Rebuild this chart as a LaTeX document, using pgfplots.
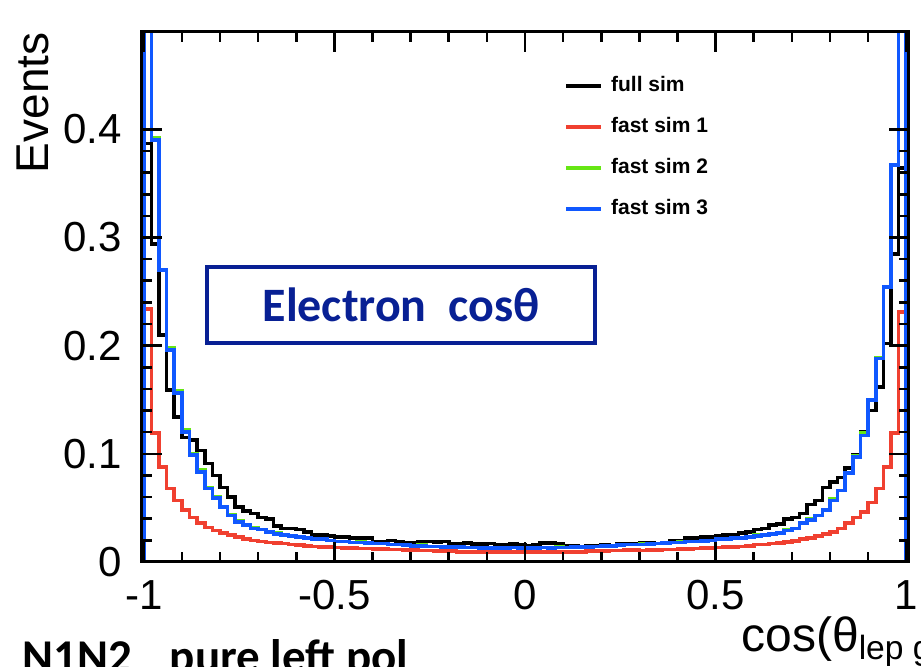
\documentclass[border=0pt]{standalone}
\usepackage{fontspec}
\setmainfont{Liberation Sans}
\newfontfamily\calib{Carlito}
\usepackage{pgfplots}
\usepackage{pgfplotstable}
\pgfplotsset{compat=1.18}
\definecolor{hred}{RGB}{240,64,48}
\definecolor{hgreen}{RGB}{102,230,20}
\definecolor{hblue}{RGB}{16,88,255}
\definecolor{navy}{RGB}{8,32,148}
\pgfplotstableread{
x full fastA fastB fastC
-1.00 0 0 0 0
-1.00 0.387 0.234 0.602 0.600
-0.98 0.294 0.119 0.392 0.390
-0.96 0.210 0.088 0.270 0.270
-0.94 0.159 0.068 0.198 0.196
-0.92 0.134 0.057 0.158 0.156
-0.90 0.115 0.048 0.122 0.120
-0.88 0.113 0.041 0.100 0.099
-0.86 0.103 0.036 0.085 0.083
-0.84 0.091 0.032 0.069 0.068
-0.82 0.080 0.029 0.060 0.059
-0.80 0.069 0.027 0.051 0.051
-0.78 0.060 0.025 0.044 0.043
-0.76 0.051 0.023 0.038 0.037
-0.74 0.047 0.021 0.034 0.034
-0.72 0.045 0.020 0.032 0.031
-0.70 0.041 0.019 0.030 0.030
-0.68 0.040 0.018 0.028 0.028
-0.66 0.033 0.0175 0.027 0.026
-0.64 0.031 0.017 0.025 0.025
-0.62 0.031 0.016 0.024 0.024
-0.60 0.030 0.0155 0.023 0.023
-0.58 0.028 0.015 0.022 0.022
-0.56 0.025 0.0145 0.0215 0.021
-0.54 0.025 0.014 0.021 0.021
-0.52 0.024 0.014 0.020 0.020
-0.50 0.023 0.0135 0.019 0.019
-0.48 0.023 0.013 0.019 0.019
-0.46 0.022 0.013 0.018 0.018
-0.44 0.022 0.0125 0.0185 0.018
-0.42 0.022 0.0125 0.0175 0.0175
-0.40 0.019 0.012 0.017 0.017
-0.38 0.019 0.012 0.017 0.017
-0.36 0.020 0.0115 0.016 0.016
-0.34 0.019 0.0115 0.016 0.016
-0.32 0.0175 0.011 0.0155 0.0155
-0.30 0.0175 0.011 0.015 0.015
-0.28 0.019 0.0105 0.0155 0.015
-0.26 0.019 0.0105 0.0145 0.0145
-0.24 0.0185 0.010 0.0145 0.0145
-0.22 0.019 0.010 0.014 0.014
-0.20 0.017 0.010 0.014 0.014
-0.18 0.017 0.0095 0.0145 0.014
-0.16 0.0175 0.0095 0.0135 0.0135
-0.14 0.0165 0.0095 0.0135 0.0135
-0.12 0.0165 0.009 0.013 0.013
-0.10 0.017 0.009 0.0135 0.013
-0.08 0.016 0.0095 0.013 0.013
-0.06 0.016 0.009 0.013 0.013
-0.04 0.0165 0.009 0.0135 0.0135
-0.02 0.016 0.009 0.0135 0.013
0.00 0.015 0.009 0.013 0.013
0.02 0.016 0.009 0.013 0.013
0.04 0.0175 0.0095 0.0135 0.0135
0.06 0.0175 0.009 0.013 0.013
0.08 0.017 0.009 0.014 0.0135
0.10 0.015 0.0095 0.0135 0.0135
0.12 0.015 0.0095 0.014 0.014
0.14 0.0145 0.0095 0.014 0.014
0.16 0.015 0.010 0.014 0.014
0.18 0.015 0.010 0.0145 0.0145
0.20 0.0155 0.010 0.015 0.015
0.22 0.015 0.0105 0.015 0.015
0.24 0.0165 0.0105 0.016 0.0155
0.26 0.0165 0.011 0.016 0.016
0.28 0.017 0.011 0.016 0.016
0.30 0.0175 0.0105 0.0165 0.016
0.32 0.0175 0.011 0.0165 0.0165
0.34 0.017 0.011 0.017 0.017
0.36 0.018 0.0115 0.0175 0.0175
0.38 0.020 0.0115 0.018 0.018
0.40 0.020 0.012 0.0185 0.018
0.42 0.022 0.012 0.019 0.019
0.44 0.022 0.0125 0.019 0.019
0.46 0.023 0.013 0.0195 0.0195
0.48 0.023 0.013 0.020 0.020
0.50 0.024 0.0135 0.021 0.021
0.52 0.025 0.014 0.0215 0.021
0.54 0.025 0.014 0.022 0.022
0.56 0.027 0.0145 0.022 0.022
0.58 0.028 0.015 0.023 0.023
0.60 0.030 0.016 0.025 0.024
0.62 0.031 0.016 0.025 0.025
0.64 0.034 0.017 0.026 0.026
0.66 0.035 0.0175 0.027 0.027
0.68 0.040 0.0185 0.030 0.029
0.70 0.041 0.0195 0.031 0.031
0.72 0.045 0.021 0.036 0.036
0.74 0.053 0.022 0.040 0.039
0.76 0.057 0.024 0.043 0.043
0.78 0.069 0.026 0.048 0.048
0.80 0.074 0.028 0.058 0.057
0.82 0.078 0.031 0.066 0.066
0.84 0.087 0.036 0.082 0.082
0.86 0.099 0.041 0.098 0.097
0.88 0.120 0.046 0.119 0.117
0.90 0.140 0.055 0.150 0.150
0.92 0.162 0.068 0.189 0.188
0.94 0.202 0.088 0.254 0.254
0.96 0.285 0.119 0.367 0.367
0.98 0.364 0.231 0.600 0.600
1.00 0.364 0.231 0.600 0.600
1.00 0 0 0 0
}\histdata
\begin{document}
\begin{tikzpicture}
\useasboundingbox (0,0) rectangle (460.5pt,333.5pt);
\begin{axis}[
  at={(70.75pt,52.5pt)}, anchor=south west,
  scale only axis, width=383.5pt, height=265pt,
  xmin=-1.006, xmax=1.006, ymin=0, ymax=0.49,
  xtick={-1,-0.5,0,0.5,1}, minor x tick num=4,
  ytick={0,0.1,0.2,0.3,0.4}, minor y tick num=4,
  tick align=inside,
  major tick length=10pt, minor tick length=5pt,
  every tick/.style={black, line width=1.3pt},
  axis line style={line width=1.5pt},
  ticklabel style={font=\fontsize{21}{25}\selectfont},
  /pgf/number format/assume math mode=true,
  xticklabel style={inner sep=0pt, anchor=north, yshift=-9pt},
  yticklabel style={inner sep=0pt, anchor=east, xshift=-9.75pt},
  axis on top,
  legend style={draw=none, fill=none, at={(0.551,0.918)}, anchor=north west,
    inner sep=0pt, outer sep=0pt, row sep=10pt, column sep=4pt,
    font=\bfseries\fontsize{10.5}{12}\selectfont,
    nodes={inner sep=0pt, text height=8pt, text depth=2.5pt}},
  legend cell align=left,
  legend image code/.code={\draw[#1, line width=2pt] (0pt,0pt) -- (17.5pt,0pt);},
]
\addplot[black, line width=1.8pt, const plot mark left] table[x=x, y=full] {\histdata};
\addplot[hred, line width=1.8pt, const plot mark left] table[x=x, y=fastA] {\histdata};
\addplot[hgreen, line width=1.8pt, const plot mark left] table[x=x, y=fastB] {\histdata};
\addplot[hblue, line width=1.8pt, const plot mark left] table[x=x, y=fastC] {\histdata};
\legend{full sim, fast sim 1, fast sim 2, fast sim 3}
\end{axis}
\node[draw=navy, line width=2pt, minimum width=194pt, minimum height=38pt, inner sep=0pt,
  text=navy, font=\calib\bfseries\fontsize{24}{28}\selectfont] at (200.5pt,181pt) {Electron\ \ cosθ};
\node[rotate=90, anchor=base east, inner sep=0pt, font=\fontsize{23}{27}\selectfont] at (24pt,317.5pt) {Events};
\node[anchor=base west, inner sep=0pt, font=\fontsize{24}{28}\selectfont] at (370.5pt,7.5pt) {cos(θ\textsubscript{lep gen})};
\node[anchor=base west, inner sep=0pt, font=\calib\bfseries\fontsize{23.5}{28}\selectfont] at (11pt,-3pt) {N1N2\hspace{19pt}pure left pol};
\end{tikzpicture}
\end{document}
